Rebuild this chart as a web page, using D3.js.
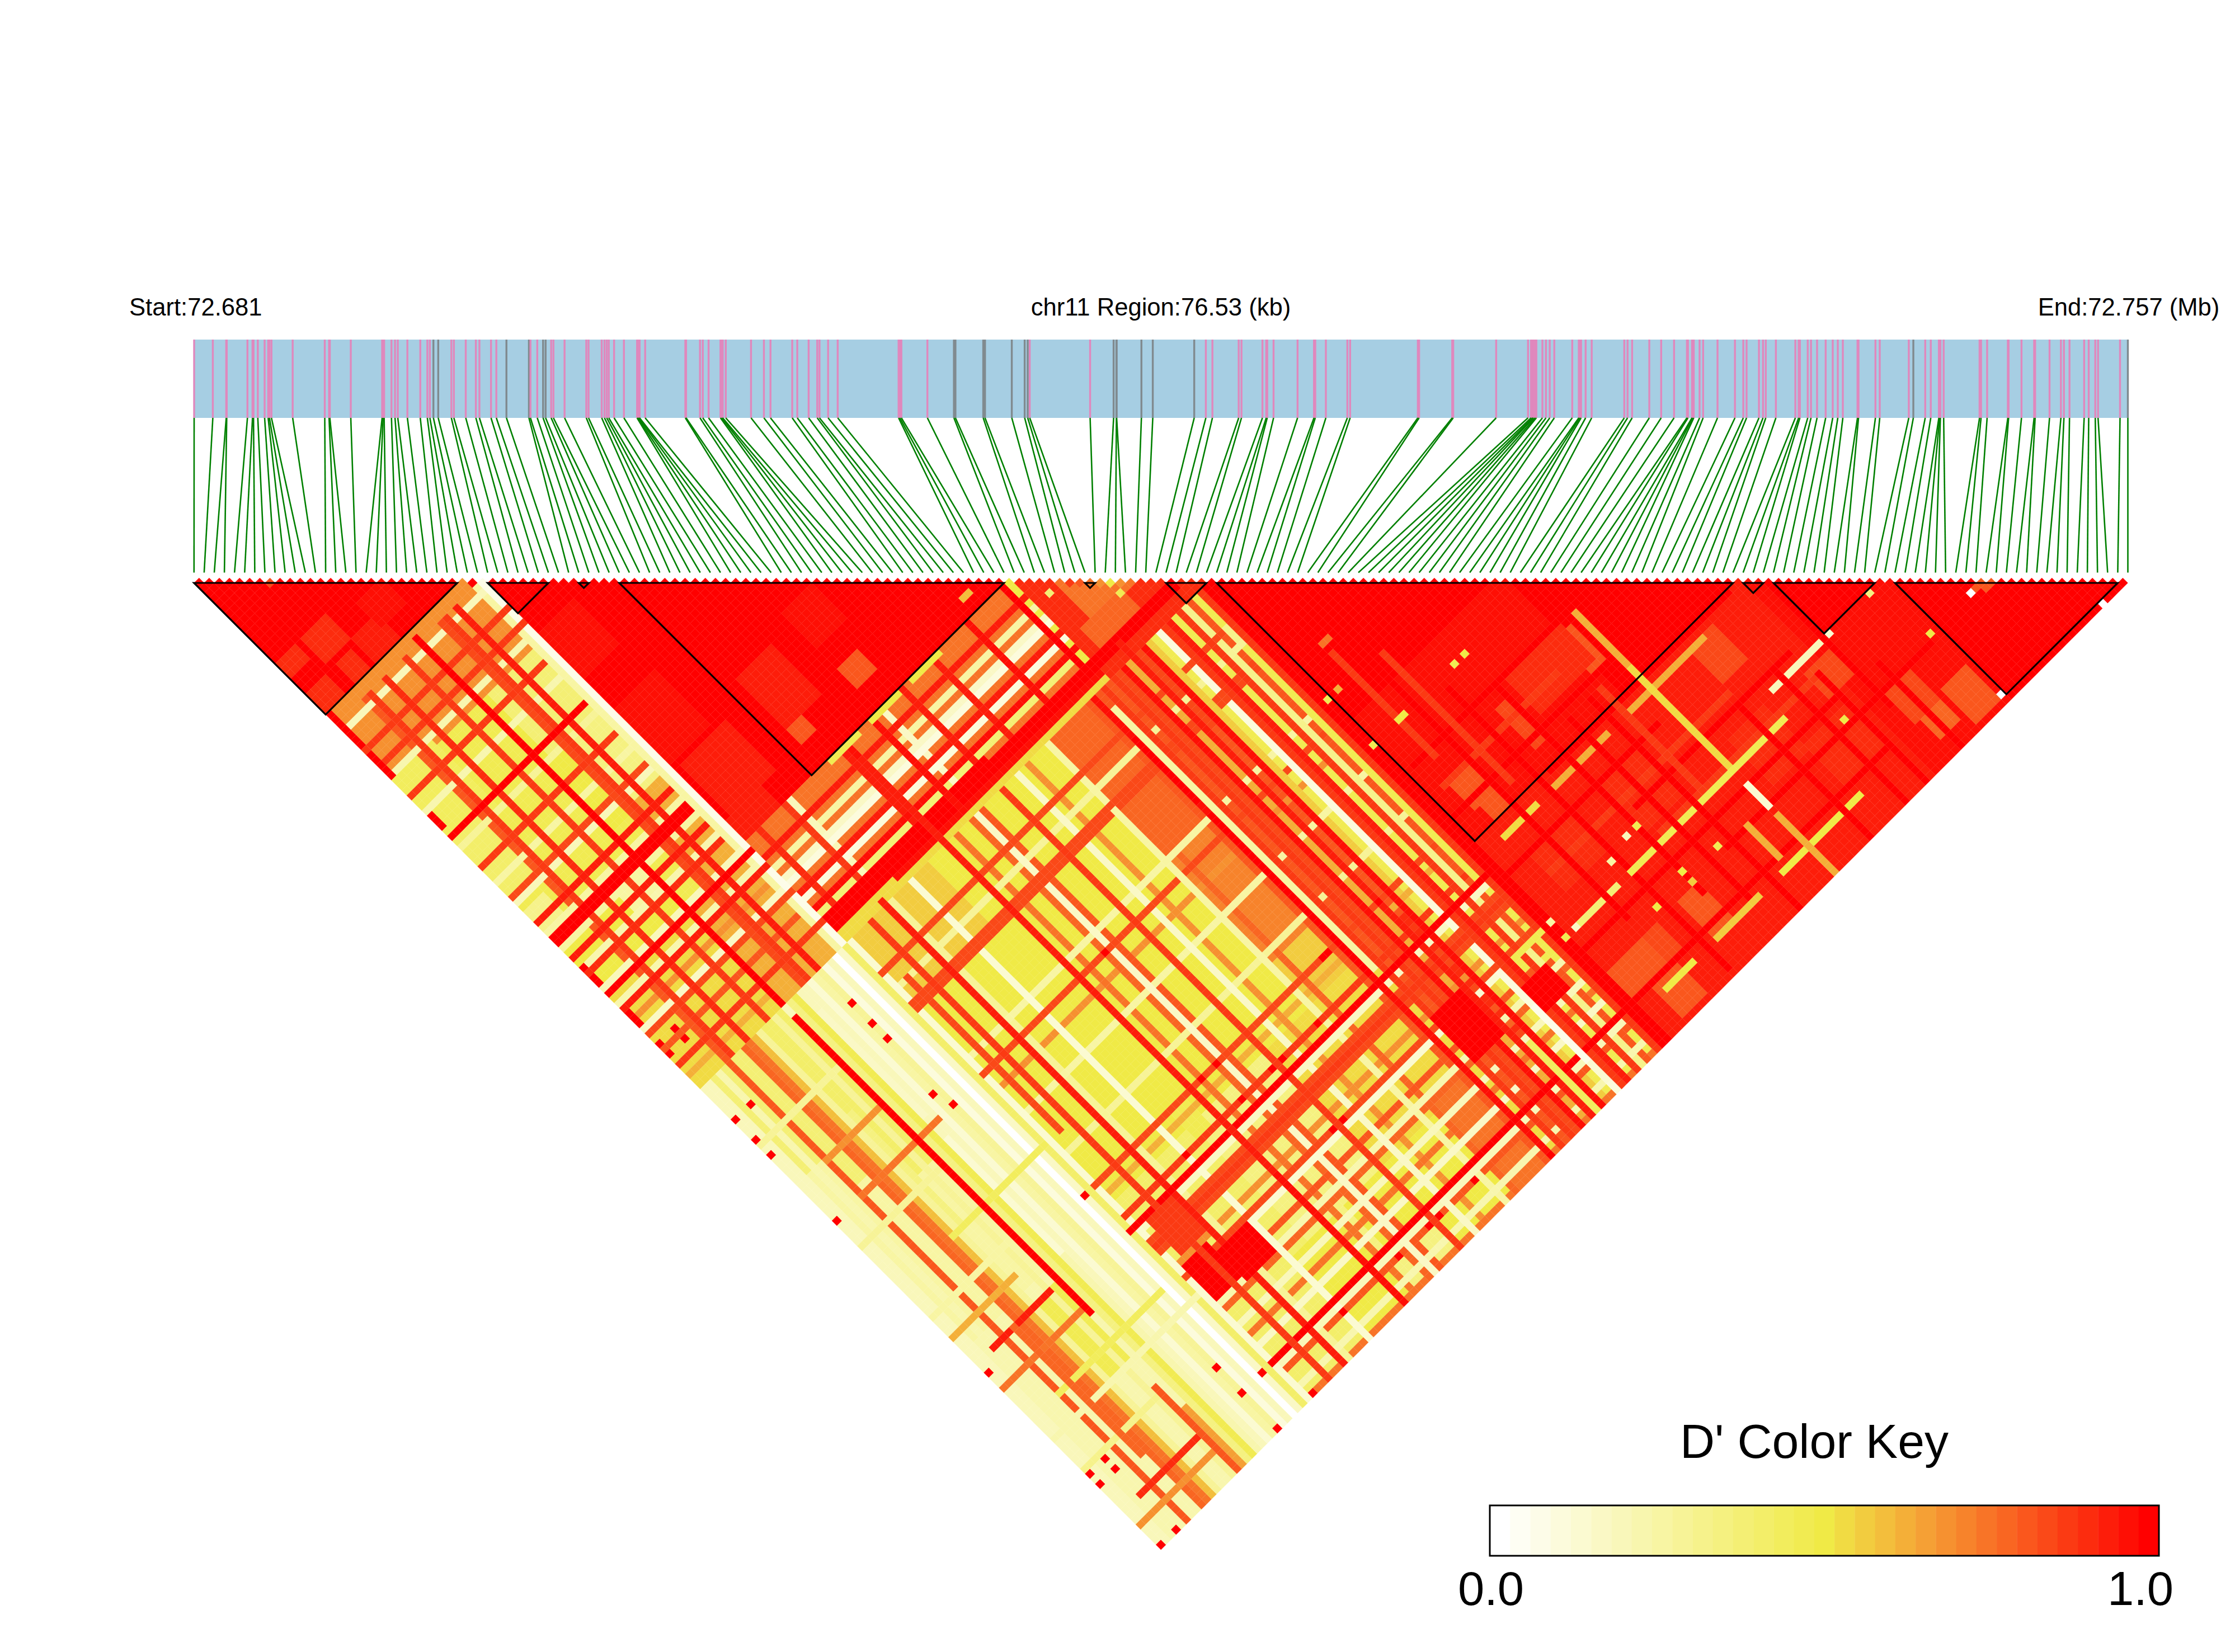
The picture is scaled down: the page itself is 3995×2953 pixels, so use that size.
<!DOCTYPE html>
<html><head><meta charset="utf-8">
<style>html,body{margin:0;padding:0;background:#fff}text{font-family:"Liberation Sans",Arial,sans-serif;fill:#000}</style>
<script src="https://cdn.jsdelivr.net/npm/d3@7/dist/d3.min.js"></script>
</head><body><svg id="c" width="3995" height="2953" xmlns="http://www.w3.org/2000/svg"></svg>
<script>
// SNP offsets from the region start, kb
const snpKb=[0,0.74,1.27,1.29,2.11,2.31,2.35,2.52,2.79,2.93,2.98,3.06,3.90,5.17,5.34,5.37,6.20,7.44,7.48,7.52,7.81,7.95,8.06,8.44,8.95,9.23,9.33,9.47,9.66,10.18,10.28,10.75,11.15,11.29,11.75,11.96,12.36,13.25,13.31,13.58,13.81,13.91,14.13,14.22,14.66,15.52,15.61,16.13,16.24,16.33,16.41,16.62,17.01,17.53,17.56,17.60,17.63,17.85,19.44,19.47,20.02,20.13,20.36,20.83,20.88,20.92,21.04,22.04,22.55,22.81,23.67,23.87,24.32,24.66,24.75,25.09,25.47,27.88,27.93,27.99,29.02,30.07,30.13,31.23,31.30,32.36,32.87,32.99,33.07,35.46,36.39,36.50,36.51,37.49,37.94,39.58,40.04,40.30,41.34,41.45,42.28,42.43,42.47,42.72,43.67,44.32,44.37,44.79,45.64,45.75,48.43,48.48,49.79,49.83,51.53,52.79,52.91,52.97,53.01,53.07,53.12,53.36,53.50,53.65,53.83,54.54,54.80,54.84,54.89,55.07,55.31,56.60,56.73,56.91,57.59,58.06,58.57,59.08,59.12,59.28,59.31,59.35,59.58,59.72,60.29,60.98,61.31,61.44,61.93,62.09,62.20,62.60,63.37,63.50,63.55,63.86,63.99,64.23,64.57,64.85,65.05,65.25,65.83,65.87,66.54,66.71,67.86,68.04,68.51,68.73,69.05,69.08,69.11,69.24,70.66,70.72,70.96,71.78,71.81,72.32,72.82,72.86,73.43,73.88,74.00,74.22,74.80,74.98,75.24,75.35,76.22,76.53];
const graySnps=[27,28,36,37,40,41,81,82,83,84,85,86,87,90,91,92,93,94,95,167,191];
// LD blocks, first and last SNP
const ldBlocks=[[0,26],[29,35],[38,39],[42,80],[88,89],[96,100],[101,152],[153,155],[156,166],[168,190]];
// D' patches, in legend steps 0..32: [iFrom,iTo,jFrom,jTo,step]
const zonePatches=[
[0,191,0,191,15],
[0,26,0,26,32],[27,80,27,80,32],
[0,26,27,40,22],[17,26,41,66,16],[18,26,41,52,12],[22,27,53,66,11],[20,26,66,80,20],[0,16,70,80,16],
[10,15,41,49,15],[10,15,58,68,15],[0,7,40,52,14],[0,6,52,62,13],[0,3,66,73,10],[11,15,72,78,8],
[0,26,81,100,17],[17,27,81,100,20],
[0,28,101,152,8],[0,8,101,125,12],[8,15,101,130,13],[16,28,101,130,6],[16,28,130,160,4],[0,5,120,150,8],[8,12,118,140,11],
[0,28,153,191,7],[8,15,155,170,15],[20,28,175,191,6],
[29,80,81,97,24],[29,80,99,100,17],
[29,68,101,152,16],[29,44,101,112,18],[18,28,105,125,5],[69,75,101,125,25],[69,75,125,145,23],[69,75,145,152,18],[76,80,101,152,26],
[29,60,153,191,11],[29,44,153,191,13],[60,80,153,191,17],[42,50,176,191,16],[52,59,176,186,16],[59,67,176,191,16],[66,71,176,191,16],[71,75,175,191,24],[44,46,150,155,15],
[81,100,81,100,29],[81,100,101,152,26],[81,88,101,115,27],[88,100,101,115,28],
[81,100,153,191,27],[81,100,153,175,29],
[101,191,101,191,30],[101,152,101,152,31],[101,128,101,128,32],[130,152,130,152,32],[153,191,153,191,31],[168,191,168,191,32],[156,166,156,166,32],[101,152,153,191,30],
[0,3,23,26,29],[0,3,17,19,29],[5,9,17,21,29],[10,14,22,26,30],[6,8,23,26,29],[14,18,19,23,31],
[29,35,40,48,31],[28,36,55,65,31],[30,38,67,76,30],[28,35,77,80,30],[44,46,73,76,26],[44,50,64,73,30],[55,58,73,76,26],[55,60,62,68,31],
[104,107,144,149,26],[105,107,149,152,26],[104,108,179,184,26],[104,108,185,190,26],[116,118,142,149,27],[129,131,141,147,26],[141,145,155,161,27],[150,154,169,173,27],[156,160,179,184,27],[157,160,185,188,25],[162,166,184,190,26],[115,118,179,185,26],[101,103,179,184,26],[108,110,179,184,27],
[119,125,160,168,29],[136,142,168,176,29],[105,112,160,166,29],[120,130,140,146,29],[143,150,176,184,29],
[85,92,86,93,24],[83,90,93,98,25]
];
// per-SNP levels seen across the far partners (-1 = none)
const rowFar=[6,6,-1,7,-1,26,-1,-1,25,24,19,9,-1,-1,9,-1,-1,11,15,-1,6,4,8,9,3,6,0,5,13,4,-1,-1,-1,28,-1,-1,30,9,-1,-1,-1,4,-1,-1,-1,-1,-1,-1,31,-1,24,-1,-1,25,5,26,-1,-1,-1,28,-1,-1,5,-1,22,-1,-1,-1,8,-1,25,-1,-1,-1,-1,-1,26,31,-1,28,26,28,27,31,20,30,-1,31,18,15,3,28,30,15,28,10,26,15,28,32,32];
const colFar=[-1,-1,-1,-1,-1,-1,27,-1,-1,9,-1,-1,27,27,-1,-1,-1,-1,-1,-1,-1,-1,-1,8,-1,-1,27,-1,-1,22,-1,-1,-1,-1,8,-1,-1,-1,-1,-1,-1,-1,9,-1,-1,-1,-1,-1,27,-1,20,-1,-1,-1,28,-1,32,5,-1,27,28,27,-1,-1,22,-1,27,4,-1,-1,26,-1,7,25,-1,-1,6,-1,24,-1,5,-1,-1,32,6,26,-1,-1,7,-1,24];
// the same, for the first block against the second and third
const rowNear=[-1,-1,-1,-1,-1,26,28,-1,-1,29,-1,-1,-1,28,-1,-1,32,-1,-1,-1,27,28,-1,30,-1,-1,-1,8,2];
const colNear=[24,-1,-1,6,-1,-1,-1,28,-1,-1,28,-1,7,-1,-1,-1,28,-1,-1,7,-1,-1,-1,-1,32,-1,9,-1,-1,-1,28,-1,-1,8,-1,-1,27,6,-1,-1,-1,30,-1,8,32,32,8,-1,30,-1,7,29,-1,-1,6,32,-1,7,30,-1,22,-1,5,27,-1,-1,26,-1,-1,28,-1,20,-1,-1];
// the second block against the SNPs 81..96
const rowMid=[-1,-1,29,-1,-1,-1,-1,28,6,-1,-1,-1,-1,-1,-1,-1,-1,-1,30,31,-1,-1,-1,-1,31,-1,5,-1,-1,-1,30,-1,-1,-1,-1,-1,30,-1,-1,-1,-1,-1,-1,31,-1,-1,-1,-1,-1,-1,32,16];
const colMid=[-1,-1,-1,30,-1,8,-1,5,3,-1,30,3,-1,31,12,-1];
// stripes along one SNP: [i,jFrom,jTo,step]
const rowStripes=[
[16,28,100,32],[16,103,161,32],[15,175,191,26],[16,180,191,21],[7,155,180,25],
[0,27,33,32],[0,35,39,32],[0,47,49,32],[0,79,80,32],[0,86,88,32],[0,92,92,32],[0,94,94,32],
[27,38,78,8],[28,38,78,2],
[33,113,191,28],[31,110,140,27],[36,100,145,30],[48,84,165,30],[53,84,99,31],[85,98,110,30],
[77,109,121,32],[77,124,155,32],[78,104,125,8],[78,125,155,8],[68,114,148,8],[90,115,155,3],[90,175,185,2],[90,186,189,4],[97,114,155,15],
[85,101,150,30],[83,101,125,31],[87,110,155,31],[92,104,150,30],[94,105,155,28],[88,105,130,18],[95,112,155,10],[86,178,191,14],
[100,164,191,32],[99,164,191,32],[118,140,180,32],[126,150,191,32],[155,156,180,32],[133,140,150,20],[133,151,170,17],[133,174,178,4],[133,180,191,20],[129,178,184,20],
[108,125,175,32],[113,135,190,32],[122,150,185,32],[140,165,191,32],[147,165,191,32],[151,170,191,32],[158,175,191,32],[105,120,140,28],[110,125,150,28],[128,150,170,28]
];
// stripes across SNPs at one column: [j,iFrom,iTo,step]
const colStripes=[
[96,29,60,32],[97,29,96,32],[98,29,96,32],[99,40,80,31],[127,5,20,24],
[132,0,15,9],[146,0,15,8],[170,0,28,7],[176,0,15,10],[112,0,15,9],[160,0,15,24],[166,5,25,14],[187,0,14,22],[150,0,12,20],[140,10,28,14],[120,5,15,22],
[157,28,78,32],[184,29,68,32],[184,3,14,29],[184,100,150,32],[161,38,70,28],[155,3,14,30],[148,100,150,32],[159,100,130,32],[174,100,150,32],[139,102,130,32],[153,115,150,32],[165,120,150,32],[178,125,165,32],[163,105,140,28],[144,103,125,28],[170,120,150,28],
[155,104,110,17],[155,113,124,20],[155,129,143,20],[171,103,110,12],[171,114,143,15],[186,105,110,16],[186,115,123,18],[186,128,143,16],[167,145,155,6],[168,93,98,15],[171,96,97,15],
[81,45,50,15],[81,53,58,16],[81,61,66,16]
];
// blocks of strong LD below the peak: [iFrom,iTo,jFrom,jTo,step]
const hotPatches=[[35,40,168,173,32],[30,34,166,172,32],[31,35,158,164,28],[79,84,166,174,32],[91,95,172,176,32]];
// single cells that stand out: [i,j,step]
const singleCells=[
[0,191,32],[3,191,32],[0,179,32],[0,177,32],[3,179,32],[3,177,32],[0,157,32],[0,127,32],[0,114,32],[0,111,32],[0,107,32],[3,107,32],
[23,107,32],[23,111,32],[23,114,32],[22,124,32],[23,127,32],[27,149,32],[41,155,32],[52,155,32],[58,155,32],[60,155,32],[67,155,32],[58,167,32],[60,167,32],
[58,186,32],[60,186,32],[52,186,32],[67,186,32],[41,186,32],[77,191,32],[23,191,32],[30,191,32],[23,179,32],[27,184,32],[23,184,32],
[53,127,32],[53,149,32],[50,149,32],[74,149,32],[75,149,32],[85,149,32],[0,77,32],[3,92,32],[3,94,32],
[166,177,16],[118,133,17],[116,167,6],[118,167,15],[112,168,8],[113,171,15],[118,176,16],[118,178,18],[124,177,15],[149,177,16],[112,177,16],[100,168,8],[102,171,5],[100,171,15],[156,167,4],[167,190,0],
[174,177,0],[175,177,26],[176,177,26],[176,178,26],[177,178,26],[164,167,11],[186,191,0],[105,118,24],[106,118,24],[105,133,16],[106,133,16],[118,133,16],[116,133,15],[97,113,15],[102,124,20],[100,124,15],[100,133,15],[97,107,10],[97,108,10],[97,109,10],[74,78,19],[75,78,19],
[86,87,28],[87,88,26],[89,90,22],[90,91,16],[91,92,22],[92,93,24],[90,93,15],[83,86,12],[7,8,27]
];
const legendStops=[0,0.5,0.656,1], legendColors=["#ffffff","#f0ea46","#f5a035","#ff0000"];
const legendSteps=d3.range(33);
const startLabel="Start:72.681", midLabel="chr11 Region:76.53 (kb)", endLabel="End:72.757 (Mb)", keyTitle="D' Color Key", keyMin="0.0", keyMax="1.0";

const n=snpKb.length, svg=d3.select("#c");
const color=d3.scaleLinear().domain(legendStops).range(legendColors).clamp(true);
const xKb=d3.scaleLinear().domain([0,76.53]).range([347,3803.5]);
const xIdx=d3.scaleLinear().domain([0,n-1]).range([346.8,3803.5]);
const W=xIdx(1)-xIdx(0), yTop=1042;
const yRow=d3.scaleLinear().domain([1,n-1]).range([yTop,yTop+(n-2)*W/2]);

// build the D' matrix
const M=d3.range(n).map(()=>new Array(n).fill(15));
for(const [a,b,c,d,s] of zonePatches) for(let i=a;i<=b;i++) for(let j=Math.max(c,i+1);j<=d;j++) M[i][j]=s;
const weave=(base,r,c)=>{
  const has=x=>x!==undefined&&x>=0;
  if(has(r)&&has(c)){const hi=Math.max(r,c),lo=Math.min(r,c);
    if(hi>=27) return hi; if(lo<=10) return lo; return hi;}
  return has(r)?r:has(c)?c:base;
};
const paint=(i0,i1,j0,j1,rows,rOff,cols,cOff)=>{
  for(let i=i0;i<=i1;i++) for(let j=Math.max(j0,i+1);j<=j1;j++) M[i][j]=weave(M[i][j],rows[i-rOff],cols[j-cOff]);
};
paint(0,28,101,191,rowFar,0,[],101);
paint(29,100,101,191,rowFar,0,colFar,101);
paint(0,28,29,100,rowNear,0,colNear,27);
paint(29,80,81,96,rowMid,29,colMid,81);
for(const [a,b,c,d,s] of hotPatches) for(let i=a;i<=b;i++) for(let j=c;j<=d;j++) M[i][j]=s;
for(const [j,a,b,s] of colStripes) for(let i=a;i<=b&&i<j;i++) M[i][j]=s;
for(const [i,a,b,s] of rowStripes) for(let j=Math.max(a,i+1);j<=b;j++) M[i][j]=s;
for(const [i,j,s] of singleCells) M[i][j]=s;
const cells=[];
for(let i=0;i<n;i++) for(let j=i+1;j<n;j++) cells.push({i,j,v:M[i][j]/32});

// gene track
const barTop=607, barBottom=747, lineEnd=1023.5;
svg.append("rect").attr("x",xKb(0)).attr("y",barTop).attr("width",xKb(76.53)-xKb(0)).attr("height",barBottom-barTop).attr("fill","#a6cee3");
svg.append("g").selectAll("rect").data(snpKb).join("rect")
 .attr("x",d=>xKb(d)-1.7).attr("y",barTop).attr("width",3.4).attr("height",barBottom-barTop)
 .attr("fill",(d,i)=>graySnps.includes(i)?"#808a8f":"#e088bd");
svg.append("g").selectAll("line").data(snpKb).join("line")
 .attr("x1",d=>xKb(d)).attr("y1",barBottom).attr("x2",(d,i)=>xIdx(i)).attr("y2",lineEnd)
 .attr("stroke","#008000").attr("stroke-width",2.6);

// heat map
svg.append("g").selectAll("path").data(cells).join("path")
 .attr("d",c=>{const cx=(xIdx(c.i)+xIdx(c.j))/2, cy=yRow(c.j-c.i), h=W/2;
   return `M${cx-h},${cy}L${cx},${cy-h}L${cx+h},${cy}L${cx},${cy+h}Z`;})
 .attr("fill",c=>color(c.v)).attr("stroke",c=>color(c.v)).attr("stroke-width",0.25);

// LD block outlines
svg.append("g").selectAll("path").data(ldBlocks).join("path")
 .attr("d",([a,b])=>`M${xIdx(a)},${yTop}L${xIdx(b)},${yTop}L${(xIdx(a)+xIdx(b))/2},${yTop+(b-a)*W/2}Z`)
 .attr("fill","none").attr("stroke","#000").attr("stroke-width",3.2);

// labels
const lab=(x,y,t,fs)=>svg.append("text").attr("x",x).attr("y",y).attr("text-anchor","middle").attr("font-size",fs).text(t);
lab(349.8,564,startLabel,43.6);lab(2075,564,midLabel,43.6);lab(3805,564,endLabel,43.6);

// colour key
const kx=d3.scaleBand().domain(legendSteps).range([2663,3859]);
svg.append("g").selectAll("rect").data(legendSteps).join("rect")
 .attr("x",d=>kx(d)).attr("y",2691).attr("width",kx.bandwidth()+0.4).attr("height",90).attr("fill",d=>color(d/32));
svg.append("rect").attr("x",2663).attr("y",2691).attr("width",1196).attr("height",90).attr("fill","none").attr("stroke","#000").attr("stroke-width",3);
lab(3243,2606,keyTitle,86);lab(2665,2869,keyMin,85);lab(3826,2869,keyMax,85);
</script></body></html>
